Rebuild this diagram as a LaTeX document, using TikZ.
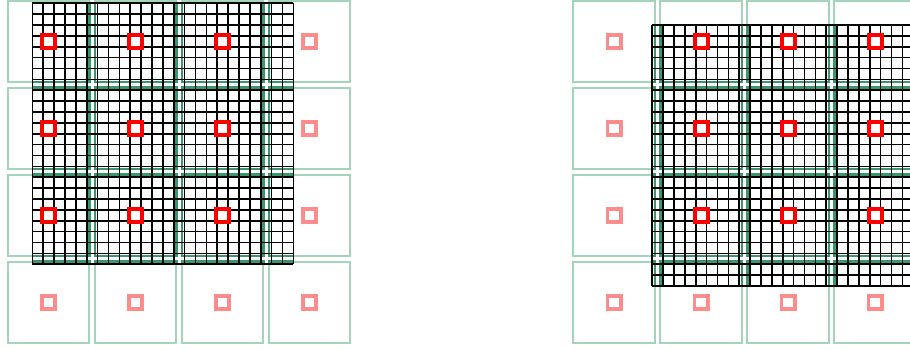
\documentclass[tikz,border=0pt]{standalone}
\usepackage{xcolor}
\usepackage{tikz}

\definecolor{haloGreen}{RGB}{58,150,108}
\definecolor{paleGreen}{RGB}{165,212,188}
\definecolor{paleRed}{RGB}{255,140,140}

\begin{document}
\begin{tikzpicture}[
  x=10.875pt, y=-10.875pt,
  tile/.style={draw=paleGreen, line width=2pt},
  ghost/.style={draw=paleRed, line width=3.6pt},
  owned/.style={draw=red, line width=3.9pt},
  mesh/.style={draw=black, line width=1.6pt},
  halo/.style={draw=haloGreen, line width=8.4pt},
  haloCore/.style={draw=white, line width=2.8pt}
]

\useasboundingbox (-0.48,0.2) rectangle (83.2,32.38);
\clip (-0.48,0.2) rectangle (83.2,32.38);

%% ---- tiles of both panels (pale) ----
\foreach \ox in {0,52}
  \foreach \i in {0,...,3}
    \foreach \j in {0,...,3} {
      \draw[tile] (\ox+8*\i+0.25, 8*\j+0.25) rectangle (\ox+8*\i+7.75, 8*\j+7.75);
      \draw[ghost] (\ox+8*\i+3.4, 8*\j+3.4) rectangle (\ox+8*\i+4.6, 8*\j+4.6);
    }

%% ---- left panel: grid ----
\begin{scope}[shift={(2.5,0.5)}]
  \fill[white] (0,0) rectangle (24,24);
  \foreach \c in {5,13,21} {
    \draw[halo] (\c+0.5,0) -- (\c+0.5,24);
    \draw[halo] (0,\c+2.5) -- (24,\c+2.5);
  }
  \foreach \c in {5,13,21} {
    \draw[haloCore] (\c+0.5,0) -- (\c+0.5,24);
    \draw[haloCore] (0,\c+2.5) -- (24,\c+2.5);
  }
  \foreach \k in {0,...,24} {
    \draw[mesh] (\k,0) -- (\k,24);
    \draw[mesh] (0,\k) -- (24,\k);
  }
\end{scope}

%% ---- left panel: owned cells ----
\foreach \i in {0,1,2}
  \foreach \j in {0,1,2}
    \draw[owned] (8*\i+3.4, 8*\j+3.4) rectangle (8*\i+4.6, 8*\j+4.6);

%% ---- right panel: grid ----
\begin{scope}[shift={(59.5,2.5)}]
  \fill[white] (0,0) rectangle (24,24);
  \foreach \c in {0,8,16} {
    \draw[halo] (\c+0.5,0) -- (\c+0.5,24);
    \draw[halo] (0,\c+5.5) -- (24,\c+5.5);
  }
  \foreach \c in {0,8,16} {
    \draw[haloCore] (\c+0.5,0) -- (\c+0.5,24);
    \draw[haloCore] (0,\c+5.5) -- (24,\c+5.5);
  }
  \foreach \k in {0,...,24} {
    \draw[mesh] (\k,0) -- (\k,24);
    \draw[mesh] (0,\k) -- (24,\k);
  }
\end{scope}

%% ---- right panel: owned cells ----
\foreach \i in {1,2,3}
  \foreach \j in {0,1,2}
    \draw[owned] (52+8*\i+3.4, 8*\j+3.4) rectangle (52+8*\i+4.6, 8*\j+4.6);

\end{tikzpicture}
\end{document}
